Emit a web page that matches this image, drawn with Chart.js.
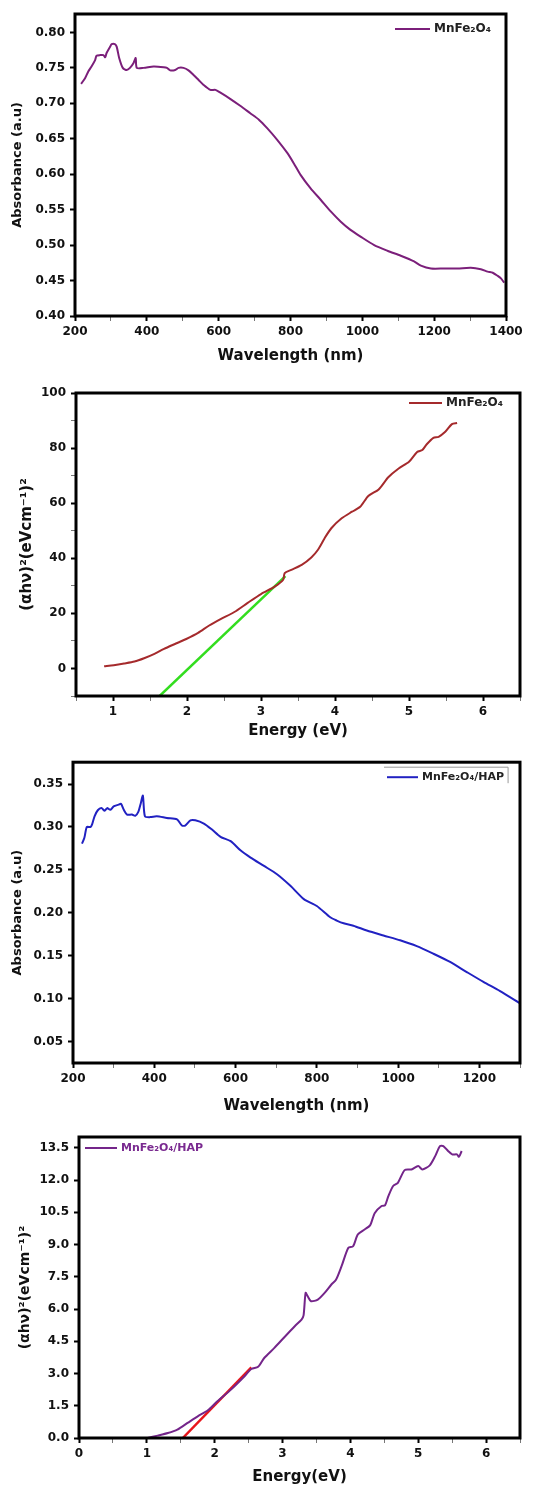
<!DOCTYPE html>
<html>
<head>
<meta charset="utf-8">
<script src="https://cdn.jsdelivr.net/npm/chart.js@4.4.1/dist/chart.umd.min.js"></script>
<style>
  html, body { margin: 0; padding: 0; background: #fff; }
  #wrap { position: relative; width: 546px; height: 1486px; overflow: hidden; }
  canvas { position: absolute; left: 0; }
</style>
</head>
<body>
<div id="wrap">
  <canvas id="c1" width="546" height="370" style="top:0px"></canvas>
  <canvas id="c2" width="546" height="380" style="top:370px"></canvas>
  <canvas id="c3" width="546" height="365" style="top:750px"></canvas>
  <canvas id="c4" width="546" height="371" style="top:1115px"></canvas>
</div>
<script>
// ---------- Panel 1: MnFe2O4 absorbance ----------
const p1Label = 'MnFe\u2082O\u2084';
const p1Wavelength = [217,228,237,246,256,260,270,279,284,288,298,302,311,316,323,333,344,353,363,369,372,391,419,447,456,465,479,488,502,516,530,544,558,577,591,605,633,660,688,712,735,763,791,809,828,856,884,912,940,967,995,1033,1070,1107,1144,1163,1191,1228,1265,1302,1330,1349,1363,1377,1386,1395];
const p1Absorbance = [0.7275,0.7355,0.745,0.752,0.761,0.767,0.768,0.768,0.765,0.771,0.780,0.7835,0.7835,0.780,0.764,0.750,0.747,0.750,0.757,0.764,0.750,0.750,0.752,0.751,0.750,0.7465,0.747,0.750,0.750,0.7465,0.740,0.733,0.726,0.719,0.719,0.715,0.706,0.6965,0.686,0.677,0.665,0.6485,0.630,0.6155,0.599,0.580,0.564,0.5475,0.533,0.5215,0.512,0.500,0.492,0.485,0.477,0.471,0.467,0.467,0.467,0.468,0.466,0.4626,0.461,0.4565,0.453,0.447];

// ---------- Panel 2: MnFe2O4 Tauc plot ----------
const p2Label = 'MnFe\u2082O\u2084';
const p2Energy = [0.88,1.01,1.15,1.29,1.42,1.56,1.69,1.83,1.99,2.15,2.30,2.46,2.64,2.82,3.00,3.19,3.30,3.32,3.41,3.55,3.68,3.77,3.86,3.95,4.09,4.23,4.34,4.45,4.59,4.72,4.86,5.00,5.11,5.18,5.24,5.33,5.40,5.49,5.58,5.65];
const p2Value = [0.8,1.2,1.8,2.5,3.7,5.3,7.1,8.8,10.7,12.9,15.6,18.0,20.5,23.8,27.0,29.8,32.2,34.6,35.8,37.6,40.3,43.1,47.3,50.9,54.5,56.9,58.7,62.6,65.0,69.4,72.6,75.0,78.6,79.3,81.4,83.7,84.1,85.9,88.7,89.1];
const p2FitEnergy = [1.63, 3.33];
const p2FitValue = [-10, 33.5];

// ---------- Panel 3: MnFe2O4/HAP absorbance ----------
const p3Label = 'MnFe\u2082O\u2084/HAP';
const p3Wavelength = [222,228,234,243,247,253,261,270,278,284,292,300,312,318,325,333,345,353,361,367,372,377,390,406,431,456,468,476,489,501,522,542,563,588,612,637,670,702,735,768,800,833,849,866,890,923,964,1005,1046,1087,1128,1169,1210,1251,1300];
const p3Absorbance = [0.2805,0.2875,0.300,0.300,0.303,0.3125,0.3195,0.322,0.319,0.322,0.320,0.324,0.326,0.327,0.320,0.3145,0.3145,0.313,0.318,0.328,0.3365,0.3125,0.3115,0.3125,0.3105,0.309,0.3017,0.3017,0.3078,0.3078,0.304,0.297,0.2886,0.2835,0.2728,0.2643,0.2546,0.245,0.2315,0.216,0.208,0.1948,0.191,0.1878,0.185,0.1794,0.1736,0.168,0.1612,0.1523,0.1427,0.131,0.1195,0.1087,0.0944];

// ---------- Panel 4: MnFe2O4/HAP Tauc plot ----------
const p4Label = 'MnFe\u2082O\u2084/HAP';
const p4Energy = [1.01,1.16,1.31,1.45,1.60,1.75,1.90,2.04,2.24,2.44,2.54,2.64,2.73,2.88,3.03,3.18,3.28,3.31,3.34,3.37,3.42,3.52,3.62,3.72,3.79,3.87,3.97,4.04,4.11,4.21,4.29,4.36,4.46,4.51,4.56,4.63,4.70,4.80,4.90,5.00,5.06,5.17,5.25,5.32,5.37,5.44,5.50,5.57,5.60,5.64];
const p4Value = [0.0,0.11,0.23,0.39,0.70,1.01,1.29,1.71,2.25,2.87,3.21,3.31,3.72,4.19,4.70,5.20,5.51,5.70,6.75,6.60,6.36,6.44,6.75,7.14,7.37,7.99,8.85,8.92,9.47,9.70,9.89,10.47,10.79,10.82,11.25,11.72,11.87,12.46,12.49,12.65,12.49,12.68,13.11,13.58,13.58,13.35,13.19,13.19,13.08,13.35];
const p4FitEnergy = [1.53, 2.54];
const p4FitValue = [0, 3.28];

const yTitleTauc = '(\u03b1h\u03bd)\u00b2(eVcm\u207b\u00b9)\u00b2';

const FONT = 'DejaVu Sans';

function pts(xs, ys) { return xs.map((x, i) => ({ x: x, y: ys[i] })); }

// Frame around the plot area + in-plot legend (line sample + dataset label)
const framePlugin = {
  id: 'frame',
  afterDraw(chart) {
    const a = chart.chartArea, ctx = chart.ctx;
    const o = chart.options.plugins.frame || {};
    ctx.save();
    ctx.strokeStyle = '#000';
    ctx.lineWidth = 3;
    ctx.strokeRect(a.left, a.top, a.right - a.left, a.bottom - a.top);
    if (o.legend) {
      const L = o.legend;
      const ds = chart.data.datasets[0];
      const x0 = a.left + L.dx, y0 = a.top + L.dy;
      ctx.strokeStyle = ds.borderColor;
      ctx.lineWidth = 2;
      ctx.beginPath();
      ctx.moveTo(x0, y0); ctx.lineTo(x0 + L.len, y0);
      ctx.stroke();
      ctx.font = 'bold ' + L.size + 'px "' + FONT + '"';
      ctx.fillStyle = L.color || '#222';
      ctx.textBaseline = 'middle';
      ctx.textAlign = 'left';
      const tx = x0 + L.len + 4;
      ctx.fillText(ds.label, tx, y0);
      if (L.box) {
        const w = ctx.measureText(ds.label).width;
        ctx.strokeStyle = '#999';
        ctx.lineWidth = 1;
        ctx.beginPath();
        ctx.moveTo(x0 - 3, y0 - 10);
        ctx.lineTo(tx + w + 4, y0 - 10);
        ctx.lineTo(tx + w + 4, y0 + 6);
        ctx.stroke();
      }
    }
    ctx.restore();
  }
};

function isMult(v, m) { const r = v / m; return Math.abs(r - Math.round(r)) < 1e-6; }

function makeChart(id, cfg) {
  const W = 546;
  const H = document.getElementById(id).height;
  const datasets = [{
    label: cfg.label,
    data: pts(cfg.xs, cfg.ys),
    borderColor: cfg.color,
    backgroundColor: cfg.color,
    borderWidth: 2,
    pointRadius: 0,
    tension: 0.25
  }];
  if (cfg.fitX) {
    datasets.push({
      label: 'fit',
      data: pts(cfg.fitX, cfg.fitY),
      borderColor: cfg.fitColor,
      backgroundColor: cfg.fitColor,
      borderWidth: 2.5,
      pointRadius: 0,
      tension: 0
    });
  }
  return new Chart(document.getElementById(id), {
    type: 'line',
    data: { datasets: datasets },
    plugins: [framePlugin],
    options: {
      responsive: false,
      animation: false,
      devicePixelRatio: 1,
      layout: { padding: { left: 0, top: cfg.area.top, right: W - cfg.area.right, bottom: 0 } },
      plugins: {
        tooltip: { enabled: false },
        legend: { display: false },
        frame: { legend: cfg.legend }
      },
      scales: {
        x: {
          type: 'linear',
          min: cfg.xMin, max: cfg.xMax,
          afterFit: s => { s.height = H - cfg.area.bottom; },
          border: { display: false },
          grid: {
            drawOnChartArea: false, drawTicks: true, tickLength: 5,
            tickColor: c => isMult(c.tick.value, cfg.xMajor) ? '#000' : '#777',
            tickWidth: c => isMult(c.tick.value, cfg.xMajor) ? 2 : 1
          },
          ticks: {
            stepSize: cfg.xStep, autoSkip: false, includeBounds: false, maxRotation: 0,
            padding: 4, color: '#111',
            font: { family: FONT, size: cfg.tickSize, weight: 'bold' },
            callback: v => isMult(v, cfg.xMajor) ? String(Math.round(v)) : ''
          },
          title: {
            display: true, text: cfg.xTitle, color: '#111',
            font: { family: FONT, size: 15, weight: 'bold' },
            padding: { top: 0, bottom: cfg.xTitlePad }
          }
        },
        y: {
          type: 'linear',
          min: cfg.yMin, max: cfg.yMax,
          afterFit: s => { s.width = cfg.area.left; },
          border: { display: false },
          grid: {
            drawOnChartArea: false, drawTicks: true, tickLength: 5,
            tickColor: c => isMult(c.tick.value, cfg.yMajor) ? '#000' : '#777',
            tickWidth: c => isMult(c.tick.value, cfg.yMajor) ? 2 : 1
          },
          ticks: {
            stepSize: cfg.yStep, autoSkip: false, includeBounds: false,
            padding: 5, color: '#111',
            font: { family: FONT, size: cfg.tickSize, weight: 'bold' },
            callback: v => isMult(v, cfg.yMajor) ? v.toFixed(cfg.yDec) : ''
          },
          title: {
            display: true, text: cfg.yTitle, color: '#111',
            font: { family: FONT, size: cfg.yTitleSize, weight: 'bold' },
            padding: { top: cfg.yTitlePad, bottom: 0 }
          }
        }
      }
    }
  });
}

makeChart('c1', {
  label: p1Label, xs: p1Wavelength, ys: p1Absorbance, color: '#7b1f7a',
  area: { left: 75, right: 506, top: 14, bottom: 316 },
  xMin: 200, xMax: 1400, xStep: 100, xMajor: 200,
  yMin: 0.40, yMax: 0.826, yStep: 0.05, yMajor: 0.05, yDec: 2,
  xTitle: 'Wavelength (nm)', yTitle: 'Absorbance (a.u)', yTitleSize: 13,
  xTitlePad: 4.6, yTitlePad: 9.6, tickSize: 12,
  legend: { dx: 320, dy: 15, len: 35, size: 12 }
});

makeChart('c2', {
  label: p2Label, xs: p2Energy, ys: p2Value, color: '#a52a2c',
  fitX: p2FitEnergy, fitY: p2FitValue, fitColor: '#33dd1f',
  area: { left: 76, right: 520, top: 23, bottom: 326 },
  xMin: 0.5, xMax: 6.5, xStep: 0.5, xMajor: 1,
  yMin: -10, yMax: 100, yStep: 10, yMajor: 20, yDec: 0,
  xTitle: 'Energy (eV)', yTitle: yTitleTauc, yTitleSize: 15,
  xTitlePad: 9.6, yTitlePad: 18, tickSize: 12,
  legend: { dx: 333, dy: 10, len: 33, size: 12 }
});

makeChart('c3', {
  label: p3Label, xs: p3Wavelength, ys: p3Absorbance, color: '#2121c2',
  area: { left: 73, right: 520, top: 12, bottom: 313 },
  xMin: 200, xMax: 1300, xStep: 100, xMajor: 200,
  yMin: 0.025, yMax: 0.3755, yStep: 0.05, yMajor: 0.05, yDec: 2,
  xTitle: 'Wavelength (nm)', yTitle: 'Absorbance (a.u)', yTitleSize: 13,
  xTitlePad: 0, yTitlePad: 9.6, tickSize: 12,
  legend: { dx: 314, dy: 15, len: 31, size: 11, box: true }
});

makeChart('c4', {
  label: p4Label, xs: p4Energy, ys: p4Value, color: '#74258a',
  fitX: p4FitEnergy, fitY: p4FitValue, fitColor: '#e8151b',
  area: { left: 79, right: 520, top: 22, bottom: 323 },
  xMin: 0, xMax: 6.5, xStep: 0.5, xMajor: 1,
  yMin: 0, yMax: 14, yStep: 1.5, yMajor: 1.5, yDec: 1,
  xTitle: 'Energy(eV)', yTitle: yTitleTauc, yTitleSize: 14,
  xTitlePad: 0, yTitlePad: 17, tickSize: 12,
  legend: { dx: 6, dy: 11, len: 32, size: 11, color: '#7a2a90' }
});
</script>
</body>
</html>
